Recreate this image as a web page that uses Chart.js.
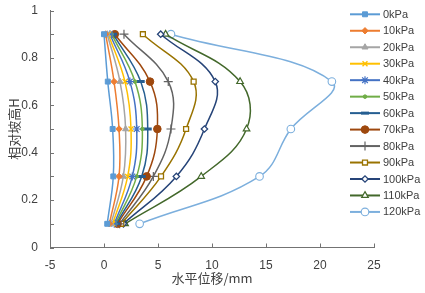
<!DOCTYPE html>
<html>
<head>
<meta charset="utf-8">
<script src="https://cdn.jsdelivr.net/npm/chart.js@4"></script>
<style>
  html, body { margin: 0; padding: 0; background: #fff; }
  #wrap { width: 425px; height: 293px; }
</style>
</head>
<body>
<div id="wrap"><canvas id="chart" width="425" height="293"></canvas></div>
<script>
// relative slope height (y) for every series
const heights = [0.1, 0.3, 0.5, 0.7, 0.9];
const seriesNames = ['0kPa', '10kPa', '20kPa', '30kPa', '40kPa', '50kPa', '60kPa',
  '70kPa', '80kPa', '90kPa', '100kPa', '110kPa', '120kPa'];
// horizontal displacement (mm) at each height
const disp0 = [0.3, 0.86, 0.8, 0.35, 0];
const disp10 = [0.5, 1.39, 1.39, 0.93, 0.15];
const disp20 = [0.65, 1.79, 2.0, 1.48, 0.3];
const disp30 = [0.8, 2.19, 2.5, 1.94, 0.4];
const disp40 = [0.95, 2.62, 3.03, 2.4, 0.55];
const disp50 = [1.05, 3.03, 3.55, 2.87, 0.7];
const disp60 = [1.15, 3.49, 4.05, 3.4, 0.85];
const disp70 = [1.25, 3.95, 4.94, 4.26, 1.0];
const disp80 = [1.45, 4.57, 6.2, 5.95, 1.85];
const disp90 = [1.6, 5.28, 7.6, 8.3, 3.6];
const disp100 = [1.8, 6.7, 9.3, 10.3, 5.25];
const disp110 = [1.95, 9.0, 13.2, 12.6, 5.7];
const disp120 = [3.3, 14.4, 17.3, 21.1, 6.2];
const allDisp = [disp0, disp10, disp20, disp30, disp40, disp50, disp60,
  disp70, disp80, disp90, disp100, disp110, disp120];
const xTicks = [-5, 0, 5, 10, 15, 20, 25];

// marker styles (Excel-like)
const colors = ['#5B9BD5', '#ED7D31', '#A5A5A5', '#FFC000', '#4472C4', '#70AD47', '#255E91',
  '#9E480E', '#636363', '#997300', '#264478', '#43682B', '#7CAFDD'];
const markers = [
  { style: 'rect', r: 3.5, fill: true, bw: 1 },
  { style: 'rectRot', r: 3.2, fill: true, bw: 1 },
  { style: 'triangle', r: 3.5, fill: true, bw: 1 },
  { style: 'crossRot', r: 3.5, fill: false, bw: 1.4 },
  { style: 'star', r: 4, fill: false, bw: 1.2 },
  { style: 'circle', r: 1.8, fill: true, bw: 1 },
  { style: 'line', r: 4, fill: false, bw: 3 },
  { style: 'circle', r: 3.8, fill: true, bw: 1 },
  { style: 'cross', r: 4.5, fill: false, bw: 1.2 },
  { style: 'rect', r: 3.5, fill: false, bw: 1.3 },
  { style: 'rectRot', r: 3.2, fill: false, bw: 1.3 },
  { style: 'triangle', r: 3.8, fill: false, bw: 1.2 },
  { style: 'circle', r: 3.8, fill: false, bw: 1.1 }
];

const datasets = allDisp.map((vals, i) => ({
  label: seriesNames[i],
  data: vals.map((v, k) => ({ x: v, y: heights[k] })),
  showLine: true,
  borderColor: colors[i],
  backgroundColor: colors[i],
  borderWidth: 1.5,
  tension: 0.4,
  pointStyle: markers[i].style,
  pointRadius: markers[i].r,
  pointBorderWidth: markers[i].bw,
  pointBorderColor: colors[i],
  pointBackgroundColor: markers[i].fill ? colors[i] : '#ffffff'
}));

// inward tick marks like Excel
const tickPlugin = {
  id: 'innerTicks',
  afterDraw(chart) {
    const ctx = chart.ctx;
    const xs = chart.scales.x, ys = chart.scales.y;
    ctx.save();
    ctx.strokeStyle = '#737373';
    ctx.lineWidth = 1;
    ctx.beginPath();
    xTicks.forEach(v => {
      const px = Math.round(xs.getPixelForValue(v)) + 0.5;
      ctx.moveTo(px, ys.bottom);
      ctx.lineTo(px, ys.bottom - 4);
    });
    for (let k = 0; k <= 10; k++) {
      const py = Math.round(ys.getPixelForValue(k / 10)) + 0.5;
      ctx.moveTo(xs.left, py);
      ctx.lineTo(xs.left + 4, py);
    }
    ctx.stroke();
    ctx.restore();
  }
};

// legend with line + marker
const legendPlugin = {
  id: 'lineLegend',
  afterDraw(chart) {
    const ctx = chart.ctx;
    ctx.save();
    chart.data.datasets.forEach((ds, i) => {
      const y = 14.3 + i * 16.47;
      ctx.strokeStyle = ds.borderColor;
      ctx.lineWidth = 2;
      ctx.beginPath();
      ctx.moveTo(350, y);
      ctx.lineTo(380, y);
      ctx.stroke();
      ctx.fillStyle = ds.pointBackgroundColor;
      ctx.strokeStyle = ds.pointBorderColor;
      ctx.lineWidth = ds.pointBorderWidth;
      if (Chart.helpers && Chart.helpers.drawPoint) {
        Chart.helpers.drawPoint(ctx, {
          pointStyle: ds.pointStyle, radius: ds.pointRadius, rotation: 0,
          borderWidth: ds.pointBorderWidth
        }, 365, y);
      }
      ctx.fillStyle = '#404040';
      ctx.font = '11px "Liberation Sans", Arial, sans-serif';
      ctx.textBaseline = 'middle';
      ctx.textAlign = 'left';
      ctx.fillText(ds.label, 383, y + 0.5);
    });
    ctx.restore();
  }
};

new Chart(document.getElementById('chart').getContext('2d'), {
  type: 'scatter',
  data: { datasets: datasets },
  plugins: [tickPlugin, legendPlugin],
  options: {
    responsive: false,
    animation: false,
    layout: { padding: { top: 10.5, right: 51, left: 0, bottom: 0 } },
    plugins: {
      legend: { display: false },
      tooltip: { enabled: false }
    },
    scales: {
      x: {
        type: 'linear',
        min: -5,
        max: 25,
        afterFit(scale) { scale.height = 45.5; scale.paddingLeft = 0; scale.paddingRight = 0; },
        grid: { display: true, drawOnChartArea: false, drawTicks: false },
        border: { display: true, color: '#737373', width: 1 },
        ticks: {
          stepSize: 5,
          padding: 11,
          color: '#404040',
          font: { family: '"Liberation Sans", Arial, sans-serif', size: 12 }
        },
        title: {
          display: true,
          text: '水平位移/mm',
          color: '#404040',
          padding: { top: 0, bottom: 7 },
          font: { family: '"Noto Sans CJK SC", "Liberation Sans", sans-serif', size: 13 }
        }
      },
      y: {
        type: 'linear',
        min: 0,
        max: 1,
        afterFit(scale) { scale.width = 50; scale.paddingTop = 0; scale.paddingBottom = 0; },
        grid: { display: true, drawOnChartArea: false, drawTicks: false },
        border: { display: true, color: '#737373', width: 1 },
        ticks: {
          stepSize: 0.2,
          padding: 12,
          color: '#404040',
          font: { family: '"Liberation Sans", Arial, sans-serif', size: 12 },
          callback: v => String(Number(v.toFixed(1)))
        },
        title: {
          display: true,
          text: '相对坡高H',
          color: '#404040',
          padding: { top: 6, bottom: 0 },
          font: { family: '"Noto Sans CJK SC", "Liberation Sans", sans-serif', size: 13 }
        }
      }
    }
  }
});
</script>
</body>
</html>
